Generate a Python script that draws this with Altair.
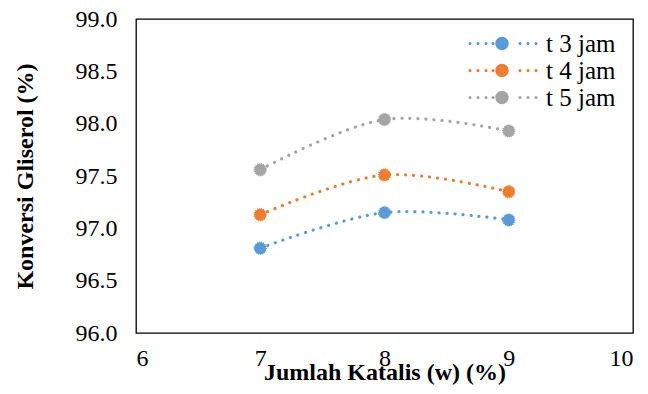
import altair as alt
import pandas as pd

# ---- data ----
x_values = [7, 8, 9]
series_names = ["t 3 jam", "t 4 jam", "t 5 jam"]
t3_values = [96.81, 97.15, 97.08]
t4_values = [97.13, 97.51, 97.35]
t5_values = [97.56, 98.04, 97.93]
colors = ["#5B9BD5", "#ED7D31", "#A5A5A5"]
x_ticks = [6, 7, 8, 9, 10]
y_ticks = [96.0, 96.5, 97.0, 97.5, 98.0, 98.5, 99.0]

rows = []
for name, vals in zip(series_names, [t3_values, t4_values, t5_values]):
    for x, y in zip(x_values, vals):
        rows.append({"series": name, "x": x, "y": y})
df = pd.DataFrame(rows)

FONT = "'Times New Roman', 'Liberation Serif', serif"


# legend symbol: dotted line with a big marker in the middle (unit box -1..1, 1 unit = 35px)
def circ(cx, r):
    return f"M{cx - r:.4f},0A{r:.4f},{r:.4f} 0 1,0 {cx + r:.4f},0A{r:.4f},{r:.4f} 0 1,0 {cx - r:.4f},0Z"


U = 35.0
dot_px = [-32, -24, -16, -9, 18, 26, 34]
sym_path = circ(0, 6.7 / U) + "".join(circ(d / U, 1.6 / U) for d in dot_px)

legend = alt.Legend(
    title=None,
    orient="none",
    legendX=331,
    legendY=12,
    padding=0,
    symbolType=sym_path,
    symbolSize=4900,
    symbolStrokeWidth=0,
    symbolOffset=0,
    labelOffset=9,
    clipHeight=25,
    rowPadding=1,
    labelFont=FONT,
    labelFontSize=25,
    labelColor="black",
)

color = alt.Color(
    "series:N",
    scale=alt.Scale(domain=series_names, range=colors),
    legend=legend,
)

x_enc = alt.X(
    "x:Q",
    scale=alt.Scale(domain=[6, 10], nice=False),
    axis=alt.Axis(
        title="Jumlah Katalis (w) (%)",
        values=x_ticks,
        format="d",
        labelPadding=13,
        titlePadding=-10,
    ),
)
y_enc = alt.Y(
    "y:Q",
    scale=alt.Scale(domain=[96, 99], nice=False, zero=False),
    axis=alt.Axis(
        title="Konversi Gliserol (%)",
        values=y_ticks,
        format=".1f",
        labelPadding=19,
        titlePadding=38,
    ),
)

points = alt.Chart(df).mark_point(
    filled=True, size=140, opacity=1, strokeWidth=1.5, strokeDash=[1, 1]
).encode(x=x_enc, y=y_enc, color=color, stroke=alt.Stroke("series:N", scale=alt.Scale(domain=series_names, range=colors), legend=None))

lines = alt.Chart(df).mark_line(
    interpolate="catmull-rom", strokeWidth=3.2, strokeDash=[0.1, 7.9], strokeCap="round"
).encode(x=x_enc, y=y_enc, color=color, detail="series:N")

chart = (
    alt.layer(points, lines)
    .properties(
        width=497,
        height=314,
        autosize=alt.AutoSizeParams(type="none"),
        padding={"left": 128, "top": 11, "right": 7, "bottom": 53},
    )
    .configure(font=FONT)
    .configure_view(stroke="black", strokeWidth=1.3)
    .configure_axis(
        grid=False,
        domain=False,
        ticks=False,
        labelFont=FONT,
        labelFontSize=24,
        labelColor="black",
        titleFont=FONT,
        titleFontSize=24,
        titleFontWeight="bold",
        titleColor="black",
    )
    .configure_legend(labelFont=FONT)
)

chart.save("out.html", embed_options={"renderer": "svg", "actions": False})
